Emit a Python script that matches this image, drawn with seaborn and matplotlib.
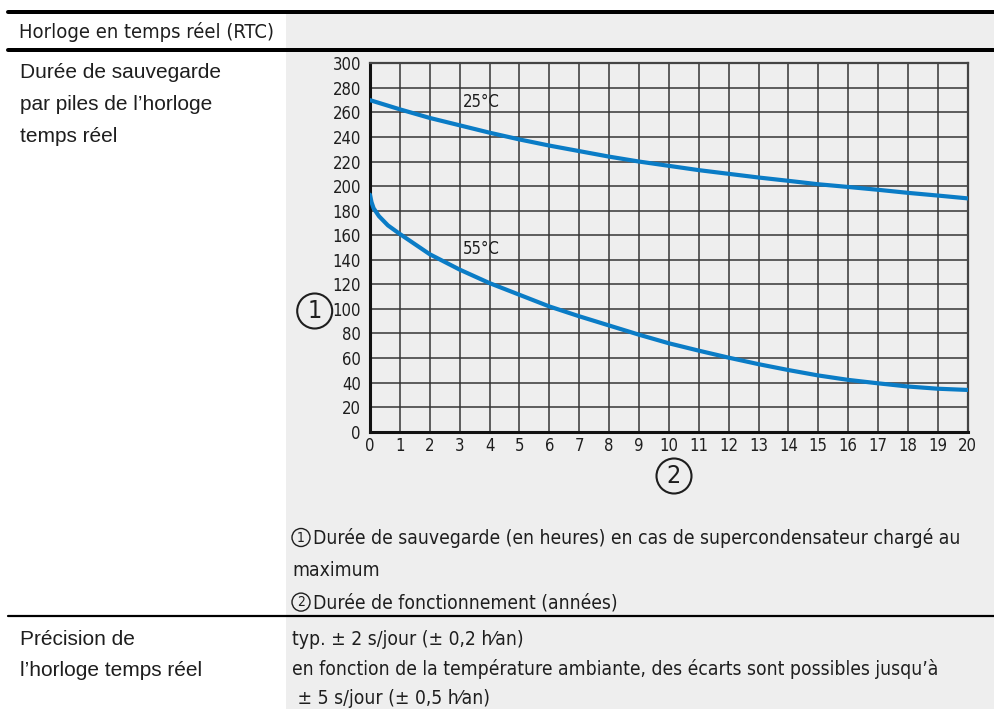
import matplotlib
matplotlib.use("Agg")
import matplotlib.pyplot as plt
from matplotlib import font_manager as fm
from matplotlib.font_manager import FontProperties
from matplotlib.patches import Rectangle, Circle
from matplotlib.lines import Line2D
import pandas as pd
import seaborn as sns

# --- data -------------------------------------------------------------
years_25 = [0, 1, 2, 3, 4, 5, 6, 7, 8, 9, 10, 11, 12, 13, 14, 15, 16, 17, 18, 19, 20]
hours_25 = [270, 262.5, 255.5, 249.5, 243.5, 238, 233, 228.5, 224, 220, 216.5, 213, 210,
            207, 204.3, 201.5, 199.3, 197, 194.5, 192.3, 190]

years_55 = [0, 0.05, 0.12, 0.3, 0.6, 1, 2, 3, 4, 5, 6, 7, 8, 9, 10, 11, 12, 13, 14,
            15, 16, 17, 18, 19, 20]
hours_55 = [193, 187, 182, 175.5, 168, 161, 144.5, 132, 121, 111.5, 102, 94, 86.5, 79,
            72, 66, 60.3, 55, 50.2, 45.8, 42.2, 39.4, 36.8, 35, 34]

curve_labels = ["25°C", "55°C"]
x_ticks = list(range(0, 21))
y_ticks = list(range(0, 301, 20))

header_title = "Horloge en temps réel (RTC)"
row1_label = ["Durée de sauvegarde", "par piles de l’horloge", "temps réel"]
legend_lines = [("1", "Durée de sauvegarde (en heures) en cas de supercondensateur chargé au"),
                (None, "maximum"),
                ("2", "Durée de fonctionnement (années)")]
row2_label = ["Précision de", "l’horloge temps réel"]
row2_text = ["typ. ± 2 s/jour (± 0,2 h⁄an)",
             "en fonction de la température ambiante, des écarts sont possibles jusqu’à",
             " ± 5 s/jour (± 0,5 h⁄an)"]

# --- fonts ------------------------------------------------------------
sns.set_theme(style="white")


def find_narrow():
    """Pick an installed condensed sans face, if there is one."""
    best = None
    for f in fm.fontManager.ttflist:
        st = str(f.stretch).lower()
        is_narrow = ("narrow" in f.name.lower() or "condensed" in f.name.lower()
                     or st in ("condensed", "semi-condensed", "extra-condensed")
                     or (st.isdigit() and int(st) < 100))
        if not is_narrow or str(f.style) != "normal":
            continue
        w = f.weight if isinstance(f.weight, int) else 400
        if w != 400:
            continue
        rank = 0 if "Liberation" in f.name else (1 if "DejaVu" in f.name else 2)
        if best is None or rank < best[0]:
            best = (rank, f.fname)
    return best[1] if best else None


narrow_path = find_narrow()
names = {f.name for f in fm.fontManager.ttflist}
regular = "Liberation Sans" if "Liberation Sans" in names else "DejaVu Sans"
plt.rcParams["font.family"] = [regular, "DejaVu Sans"]

if narrow_path:
    def NP(size):
        return FontProperties(fname=narrow_path, size=size)
    shrink = 1.0
else:
    def NP(size):
        return FontProperties(family=["Roboto", "DejaVu Sans"], size=size)
    shrink = 0.92

W, H = 995, 709
BG = "#eeeeee"
INK = "#1e1e1e"
BLUE = "#0a7cc6"

fig = plt.figure(figsize=(W / 100, H / 100), dpi=100)
fig.patch.set_facecolor("white")


def fx(px):
    return px / W


def fy(py):
    return 1 - py / H


def ftext(x, y, s, size, narrow=True, **kw):
    if narrow:
        fp = NP(size * shrink)
    else:
        fp = FontProperties(family=[regular, "DejaVu Sans"], size=size)
    fig.text(fx(x), fy(y), s, fontproperties=fp, color=INK, va="baseline",
             ha=kw.pop("ha", "left"), zorder=6, **kw)


# shaded right-hand column
fig.add_artist(Rectangle((fx(286), 0), 1 - fx(286), fy(14), transform=fig.transFigure,
                         facecolor=BG, edgecolor="none", zorder=-5))

# table rules
for ypx, lw in [(12, 4.0), (50, 4.0), (615.5, 2.2)]:
    fig.add_artist(Line2D([fx(8), 1], [fy(ypx), fy(ypx)], transform=fig.transFigure,
                          color="black", lw=lw * 0.72, zorder=5))

# --- chart ------------------------------------------------------------
ax = fig.add_axes([fx(370), fy(431.7), fx(967.7) - fx(370), fy(63.3) - fy(431.7)])
ax.set_zorder(2)
ax.set_facecolor(BG)

df = pd.concat([
    pd.DataFrame({"years": years_25, "hours": hours_25, "temp": curve_labels[0]}),
    pd.DataFrame({"years": years_55, "hours": hours_55, "temp": curve_labels[1]}),
])
sns.lineplot(data=df, x="years", y="hours", hue="temp", palette=[BLUE, BLUE],
             lw=3, legend=False, ax=ax, zorder=3, sort=False)

ax.set_xlim(0, 20)
ax.set_ylim(0, 300)
ax.set_xticks(x_ticks)
ax.set_yticks(y_ticks)
ax.set_xticklabels([str(v) for v in x_ticks])
ax.set_yticklabels([str(v) for v in y_ticks])
ax.set_xlabel("")
ax.set_ylabel("")
ax.grid(True, color="#353535", lw=1.1)
ax.set_axisbelow(True)
ax.tick_params(axis="both", length=0, labelcolor=INK)
ax.tick_params(axis="y", pad=6.5)
ax.tick_params(axis="x", pad=4)
for lab in ax.get_xticklabels() + ax.get_yticklabels():
    lab.set_fontproperties(NP(12 * shrink))
for side in ["left", "bottom"]:
    ax.spines[side].set_color("#111111")
    ax.spines[side].set_linewidth(2.2)
for side in ["top", "right"]:
    ax.spines[side].set_color("#444444")
    ax.spines[side].set_linewidth(1.6)

ax.text(3.1, 268.7, curve_labels[0], fontproperties=NP(12 * shrink), color=INK,
        va="center", ha="left", zorder=4)
ax.text(3.1, 148.5, curve_labels[1], fontproperties=NP(12 * shrink), color=INK,
        va="center", ha="left", zorder=4)

# circled axis markers
for cx, cy, r, num, size in [(314.7, 311, 17.5, "1", 18), (674, 476, 17.5, "2", 18)]:
    fig.add_artist(Circle((cx / 100, (H - cy) / 100), r / 100, transform=fig.dpi_scale_trans,
                          facecolor="none", edgecolor=INK, lw=1.5, zorder=6))
    fig.text(fx(cx), fy(cy), num, ha="center", va="center", fontproperties=NP(size),
             color=INK, zorder=6)

# --- text cells -------------------------------------------------------
ftext(19, 38.5, header_title, 14.5)

for i, line in enumerate(row1_label):
    ftext(20, 78.5 + i * 31.7, line, 15, narrow=False)

for i, (num, line) in enumerate(legend_lines):
    base = 543.5 + i * 32.3
    if num is not None:
        cx, cy = 301, base - 6
        fig.add_artist(Circle((cx / 100, (H - cy) / 100), 0.09, transform=fig.dpi_scale_trans,
                              facecolor="none", edgecolor=INK, lw=1.0, zorder=6))
        fig.text(fx(cx), fy(cy), num, ha="center", va="center", fontproperties=NP(10),
                 color=INK, zorder=6)
        ftext(313, base, line, 13.9)
    else:
        ftext(292, base, line, 13.9)

for line, base in zip(row2_label, [645, 676]):
    ftext(20, base, line, 15, narrow=False)

for line, base in zip(row2_text, [645, 675, 704]):
    ftext(292, base, line, 13.9)

fig.savefig("out.png", dpi=100, facecolor="white")
